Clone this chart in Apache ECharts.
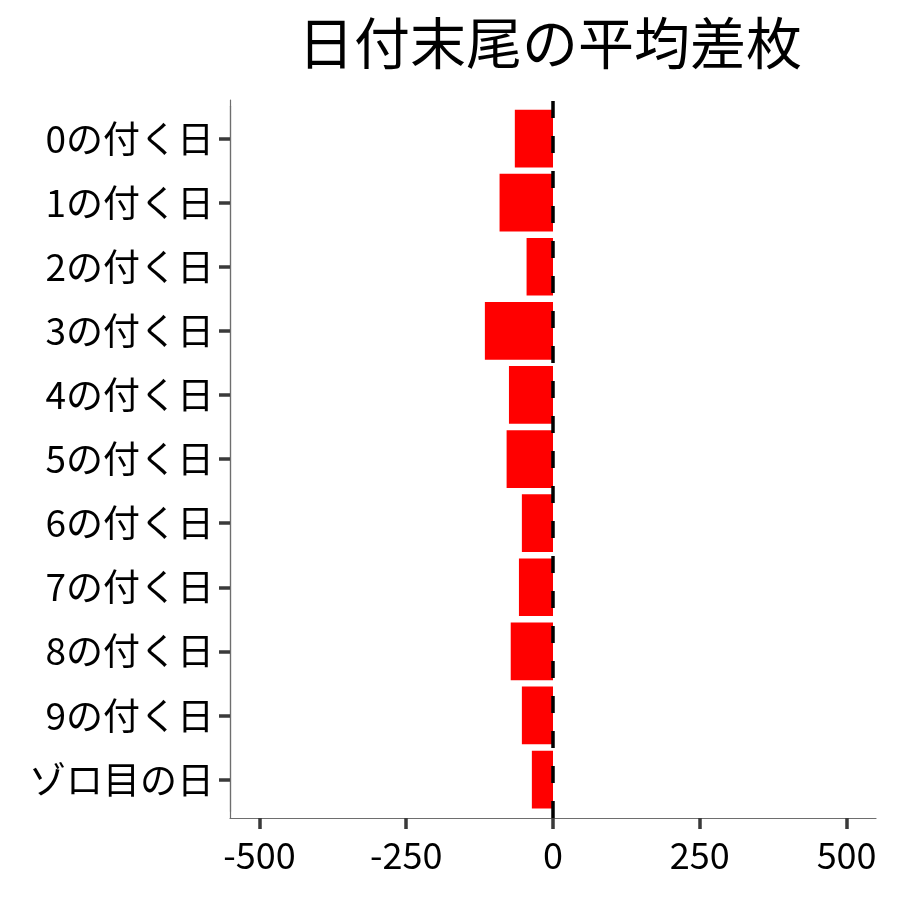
<!DOCTYPE html>
<html>
<head>
<meta charset="utf-8">
<script src="https://cdn.jsdelivr.net/npm/echarts@6/dist/echarts.min.js"></script>
<style>
html,body{margin:0;padding:0;background:#fff;}
#chart{width:900px;height:900px;}
</style>
</head>
<body>
<div id="chart"></div>
<script>
const titleText = "日付末尾の平均差枚";
const categories = ["0の付く日","1の付く日","2の付く日","3の付く日","4の付く日","5の付く日","6の付く日","7の付く日","8の付く日","9の付く日","ゾロ目の日"];
const avgDiff = [-65, -91, -45, -116, -75, -79, -53, -58, -72, -53, -36];
const tickMin = -500, tickMax = 500, tickStep = 250;
const xRange = [-550, 550];
const refLineX = 0;

const FONT = '"Noto Sans CJK JP", "Noto Sans", sans-serif';
const AXIS_COLOR = '#6e6e6e';
const TICK_COLOR = '#3a3a3a';
const chart = echarts.init(document.getElementById('chart'));
chart.setOption({
  backgroundColor: '#ffffff',
  animation: false,
  title: {
    text: titleText,
    left: 545,
    textAlign: 'center',
    top: 10,
    textStyle: { fontFamily: FONT, fontSize: 56, fontWeight: 'normal', color: '#000' }
  },
  grid: [
    { left: 230, right: 24, top: 100, bottom: 82 },
    { left: 230, right: 24, top: 106.5, bottom: 88.4 },
    { left: 259.4, right: 53.4, top: 100, bottom: 82 }
  ],
  xAxis: [
    {
      gridIndex: 0, type: 'value', min: xRange[0], max: xRange[1],
      axisLine: { show: true, onZero: false, lineStyle: { color: AXIS_COLOR, width: 1.2 } },
      axisTick: { show: false }, axisLabel: { show: false },
      splitLine: { show: false }
    },
    {
      gridIndex: 1, type: 'value', min: xRange[0], max: xRange[1], show: false,
      splitLine: { show: false }
    },
    {
      gridIndex: 2, type: 'value', min: tickMin, max: tickMax, interval: tickStep,
      axisLine: { show: true, onZero: false, lineStyle: { color: AXIS_COLOR, width: 1.2 } },
      axisTick: { show: true, inside: false, length: 11, lineStyle: { color: TICK_COLOR, width: 3.5 } },
      axisLabel: { show: true, fontFamily: FONT, fontSize: 36, color: '#000', margin: 19 },
      splitLine: { show: false }
    }
  ],
  yAxis: [
    {
      gridIndex: 0, type: 'value', min: 0, max: 1,
      axisLine: { show: true, onZero: false, lineStyle: { color: AXIS_COLOR, width: 1.2 } },
      axisTick: { show: false }, axisLabel: { show: false }, splitLine: { show: false }
    },
    {
      gridIndex: 1, type: 'category', inverse: true, data: categories,
      axisLine: { show: true, onZero: false, lineStyle: { color: AXIS_COLOR, width: 1.2 } },
      axisTick: { show: true, inside: false, alignWithLabel: true, length: 11, lineStyle: { color: TICK_COLOR, width: 3.5 } },
      axisLabel: { fontFamily: FONT, fontSize: 37, color: '#000', margin: 16 },
      splitLine: { show: false }
    },
    {
      gridIndex: 2, type: 'value', min: 0, max: 1, show: false, splitLine: { show: false }
    }
  ],
  series: [
    {
      type: 'bar', xAxisIndex: 1, yAxisIndex: 1, data: avgDiff,
      barWidth: '90%', itemStyle: { color: '#FF0000' }, z: 2, silent: true
    },
    {
      type: 'line', xAxisIndex: 0, yAxisIndex: 0, data: [], z: 10, silent: true,
      markLine: {
        silent: true, symbol: ['none', 'none'], label: { show: false },
        lineStyle: { color: '#000', type: [17, 18], width: 3.5 },
        data: [[{ coord: [refLineX, 0] }, { coord: [refLineX, 1] }]]
      }
    }
  ]
});
</script>
</body>
</html>
